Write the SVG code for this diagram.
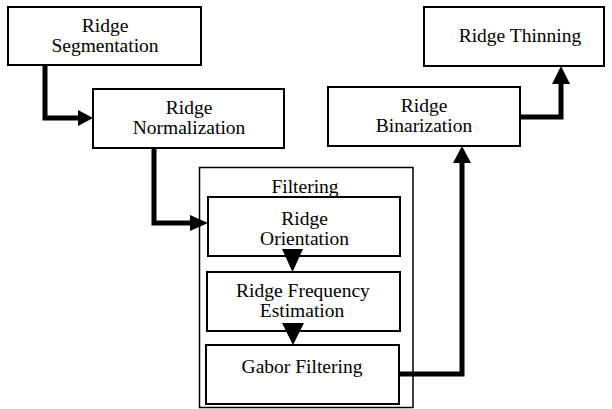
<svg xmlns="http://www.w3.org/2000/svg" width="612" height="409" viewBox="0 0 612 409">
<style>
.box{fill:#fff;stroke:#000;stroke-width:2}
.outer{fill:#fff;stroke:#000;stroke-width:1.5}
.t{font-family:'Liberation Serif','DejaVu Serif',serif;font-size:19.5px;text-anchor:middle;fill:#000}
.c{fill:none;stroke:#000;stroke-width:5;stroke-linejoin:miter}
.ah{fill:#000}
</style>
<rect width="612" height="409" fill="#fff"/>
<g id="filtering">
<rect class="outer" x="199.5" y="167.5" width="213.5" height="240"/>
<text class="t" x="305" y="193">Filtering</text>
</g>
<g id="connectors">
<polyline class="c" points="45,65 45,118 80,118"/>
<polygon class="ah" points="78,110 93,118 78,126"/>
<polyline class="c" points="154,148 154,223 192,223"/>
<polygon class="ah" points="190,215 208,223 190,231"/>
<polyline class="c" points="399,374 462,374 462,161"/>
<polygon class="ah" points="453,163 462,146 471,163"/>
<polyline class="c" points="520,117 561,117 561,82"/>
<polygon class="ah" points="552,84 561,66 570,84"/>
</g>
<g id="seg">
<rect class="box" x="8" y="7" width="193" height="58"/>
<text class="t" x="105" y="31.5">Ridge</text>
<text class="t" x="105" y="51.5">Segmentation</text>
</g>
<g id="norm">
<rect class="box" x="93" y="89" width="191" height="59"/>
<text class="t" x="189" y="113.5">Ridge</text>
<text class="t" x="189" y="133.5">Normalization</text>
</g>
<g id="orient">
<rect class="box" x="208" y="197" width="192" height="59"/>
<text class="t" x="304.5" y="225">Ridge</text>
<text class="t" x="304.5" y="245">Orientation</text>
</g>
<g id="freq">
<rect class="box" x="207" y="272" width="193" height="59"/>
<text class="t" x="303" y="297">Ridge Frequency</text>
<text class="t" x="302" y="317">Estimation</text>
</g>
<g id="gabor">
<rect class="box" x="206" y="345" width="193" height="59"/>
<text class="t" x="302" y="373">Gabor Filtering</text>
</g>
<g id="binar">
<rect class="box" x="328" y="87" width="192" height="59"/>
<text class="t" x="424" y="111.5">Ridge</text>
<text class="t" x="424" y="131.5">Binarization</text>
</g>
<g id="thin">
<rect class="box" x="424" y="7" width="180" height="59"/>
<text class="t" x="520" y="42">Ridge Thinning</text>
</g>
<g id="inner-arrows">
<polygon class="ah" points="282,249 303,249 292.5,272"/>
<polygon class="ah" points="282,323 304,323 293,345"/>
</g>
</svg>
